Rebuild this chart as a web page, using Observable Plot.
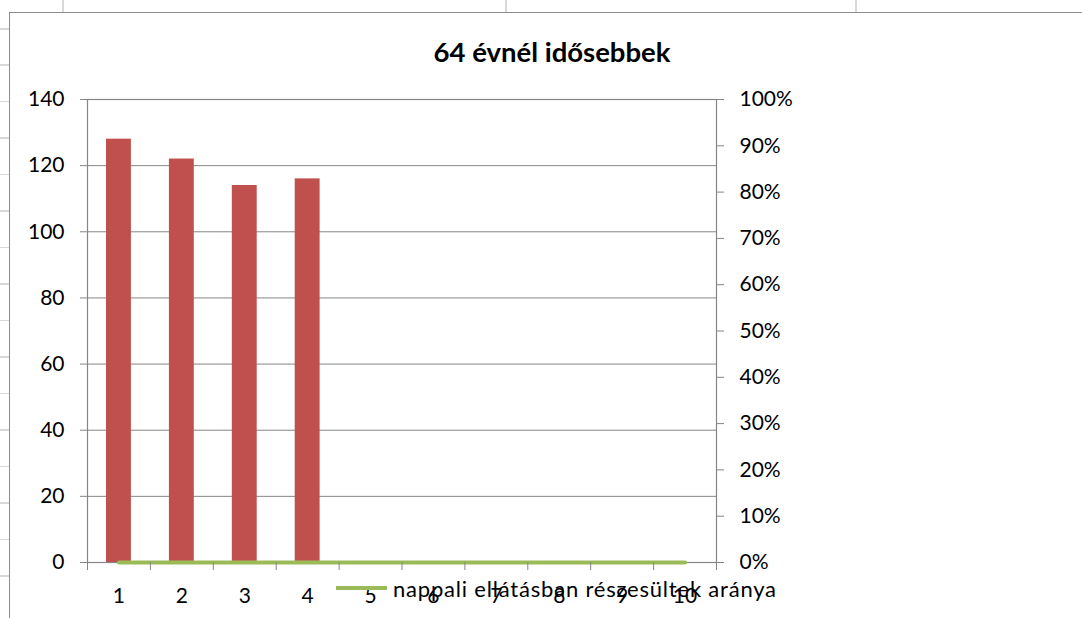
<!DOCTYPE html>
<html><head><meta charset="utf-8">
<script src="https://cdn.jsdelivr.net/npm/d3@7"></script>
<script src="https://cdn.jsdelivr.net/npm/@observablehq/plot@0.6"></script>
<style>
body{margin:0;background:#fff;}
#wrap{position:relative;width:1082px;height:618px;overflow:hidden;font-family:Lato,"Open Sans",sans-serif;}
.sl{position:absolute;background:#d9d9d9;}
#border{position:absolute;left:9px;top:12px;width:1200px;height:700px;border:1.5px solid #8c8c8c;box-sizing:border-box;}
#chart{position:absolute;left:0;top:0;}
#title{position:absolute;left:0;width:1104px;top:35px;text-align:center;font-weight:bold;font-size:27.5px;line-height:34px;color:#000;}
#legend{position:absolute;left:336px;top:574px;font-size:22px;letter-spacing:0.8px;display:flex;align-items:center;white-space:nowrap;height:28px;}
#legend span.sw{display:inline-block;width:51px;height:4px;background:#9bbb59;margin-right:6px;}
</style></head>
<body><div id="wrap">
<div class="sl" style="left:62px;top:0;width:2px;height:12px"></div>
<div class="sl" style="left:505px;top:0;width:2px;height:12px"></div>
<div class="sl" style="left:855px;top:0;width:2px;height:12px"></div>
<div id="rows"></div>
<div id="border"></div>
<div id="chart"></div>
<div id="title">64 évnél idősebbek</div>
<div id="legend"><span class="sw"></span><span id="legtext"></span></div>
</div>
<script>
const categories = [1, 2, 3, 4, 5, 6, 7, 8, 9, 10];
const counts = [128, 122, 114, 116];
const rates = [0, 0, 0, 0, 0, 0, 0, 0, 0, 0];
const leftTicks = [0, 20, 40, 60, 80, 100, 120, 140];
const rightTicks = [0, 0.1, 0.2, 0.3, 0.4, 0.5, 0.6, 0.7, 0.8, 0.9, 1.0];
const rightTickLabels = ["0%", "10%", "20%", "30%", "40%", "50%", "60%", "70%", "80%", "90%", "100%"];
const seriesName = "nappali ellátásban részesültek aránya";
const yMax = 140;

document.getElementById("legtext").textContent = seriesName;
const rows = document.getElementById("rows");
for (let i = 0; i < 16; i++) {
  const d = document.createElement("div");
  d.className = "sl";
  d.style.cssText = `left:0;width:9px;height:1.5px;top:${28 + i * 36.47}px`;
  rows.appendChild(d);
}

const barData = counts.map((v, i) => ({cat: categories[i], v}));
const lineData = categories.map((c, i) => ({cat: c, r: rates[i]}));
const bounds = [0.5, ...categories.map(c => c + 0.5)];
const grey = "#868686";

const chart = Plot.plot({
  width: 1082, height: 618,
  marginLeft: 87, marginRight: 366, marginTop: 99, marginBottom: 56,
  style: {fontFamily: "Lato, 'Open Sans', sans-serif", background: "transparent"},
  x: {type: "linear", domain: [0.5, 10.5]},
  y: {domain: [0, yMax]},
  marks: [
    Plot.ruleY(leftTicks, {stroke: grey, strokeWidth: 1}),
    Plot.frame({stroke: grey, strokeWidth: 1.2}),
    Plot.rectY(barData, {x1: d => d.cat - 0.5, x2: d => d.cat + 0.5, y: "v", fill: "#c0504d", insetLeft: 19, insetRight: 19}),
    Plot.line(lineData, {x: "cat", y: d => d.r * yMax, stroke: "#9bbb59", strokeWidth: 4}),
    Plot.axisY({ticks: leftTicks, anchor: "left", tickSize: 7, tickPadding: 16, stroke: grey, fill: "#000", fontSize: 21, label: null}),
    Plot.axisY({ticks: rightTicks.map(t => t * yMax), anchor: "right", tickSize: 7, tickPadding: 16, stroke: grey, fill: "#000", fontSize: 21, label: null,
      tickFormat: (d) => rightTickLabels[Math.round(d / yMax * 10)]}),
    Plot.axisX({ticks: bounds, tickSize: 8, tickFormat: () => "", stroke: grey, label: null}),
    Plot.axisX({ticks: categories, tickSize: 0, tickPadding: 26, fill: "#000", fontSize: 21, label: null, tickFormat: d => String(d)})
  ]
});
document.getElementById("chart").appendChild(chart);
</script>
</body></html>
